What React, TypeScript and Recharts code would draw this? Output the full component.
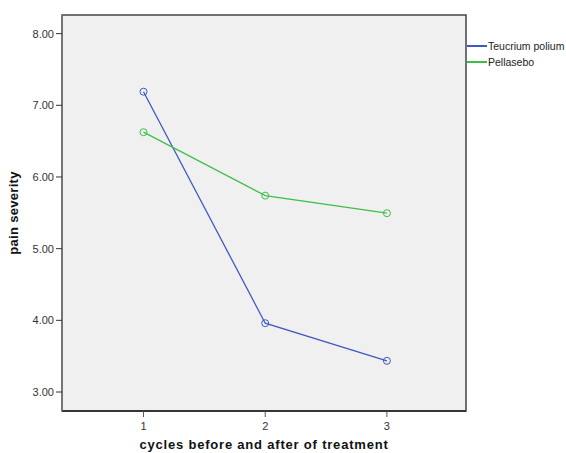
import { LineChart, Line, XAxis, YAxis, ReferenceArea } from "recharts";

const cycles = [1, 2, 3];
const teucrium = [7.19, 3.96, 3.435];
const placebo = [6.625, 5.74, 5.495];
const yTicks = [3, 4, 5, 6, 7, 8];
const xTicks = [1, 2, 3];
const seriesNames = ["Teucrium polium", "Pellasebo"];

const BLUE = "#4159c2";
const GREEN = "#3dbf47";
const X_DOMAIN: [number, number] = [0.33, 3.65];
const Y_DOMAIN: [number, number] = [2.735, 8.26];

const data = cycles.map((c, i) => ({
  cycle: c,
  [seriesNames[0]]: teucrium[i],
  [seriesNames[1]]: placebo[i],
}));

const font = "'Liberation Sans', Arial, sans-serif";

function LegendBox() {
  const colors = [BLUE, GREEN];
  return (
    <div style={{ position: "absolute", left: 467, top: 38, fontFamily: font, fontSize: 10.5, color: "#222" }}>
      {seriesNames.map((name, i) => (
        <div key={name} style={{ display: "flex", alignItems: "center", height: 16 }}>
          <span style={{ display: "inline-block", width: 20, height: 2, background: colors[i], marginRight: 1 }} />
          <span>{name}</span>
        </div>
      ))}
    </div>
  );
}

export default function App() {
  return (
    <div style={{ position: "absolute", left: 0, top: 0, width: 566, height: 453, background: "#fff" }}>
      <LineChart
        width={566}
        height={453}
        data={data}
        margin={{ top: 15, right: 100, left: 12, bottom: 12 }}
      >
        <ReferenceArea
          x1={X_DOMAIN[0]}
          x2={X_DOMAIN[1]}
          y1={Y_DOMAIN[0]}
          y2={Y_DOMAIN[1]}
          fill="#f0f0f0"
          fillOpacity={1}
          stroke="#444"
          strokeWidth={1.5}
          ifOverflow="extendDomain"
        />
        <XAxis
          dataKey="cycle"
          type="number"
          domain={X_DOMAIN}
          ticks={xTicks}
          allowDataOverflow
          height={30}
          axisLine={{ stroke: "#222", strokeWidth: 1.5 }}
          tickLine={{ stroke: "#555" }}
          tickSize={6}
          tickMargin={4}
          tick={{ fill: "#333", fontSize: 11, fontFamily: font, dy: 1 }}
          label={{
            value: "cycles before and after of treatment",
            position: "insideBottom",
            offset: -8,
            style: { fontFamily: font, fontWeight: "bold", fontSize: 13, fill: "#111", letterSpacing: 0.8 },
          }}
        />
        <YAxis
          type="number"
          domain={Y_DOMAIN}
          ticks={yTicks}
          allowDataOverflow
          width={50}
          axisLine={{ stroke: "#777", strokeWidth: 1.5 }}
          tickLine={{ stroke: "#333" }}
          tickSize={6}
          tickFormatter={(v: number) => v.toFixed(2)}
          tick={{ fill: "#333", fontSize: 11, fontFamily: font }}
          label={{
            value: "pain severity",
            angle: -90,
            position: "insideLeft",
            offset: 1,
            style: { fontFamily: font, fontWeight: "bold", fontSize: 13, fill: "#111", textAnchor: "middle", letterSpacing: 0.3 },
          }}
        />
        <Line
          dataKey={seriesNames[0]}
          stroke={BLUE}
          strokeWidth={1.3}
          dot={{ r: 3.5, fill: "none", stroke: BLUE, strokeWidth: 1 }}
          activeDot={false}
          isAnimationActive={false}
        />
        <Line
          dataKey={seriesNames[1]}
          stroke={GREEN}
          strokeWidth={1.3}
          dot={{ r: 3.5, fill: "none", stroke: GREEN, strokeWidth: 1 }}
          activeDot={false}
          isAnimationActive={false}
        />
      </LineChart>
      <LegendBox />
    </div>
  );
}
